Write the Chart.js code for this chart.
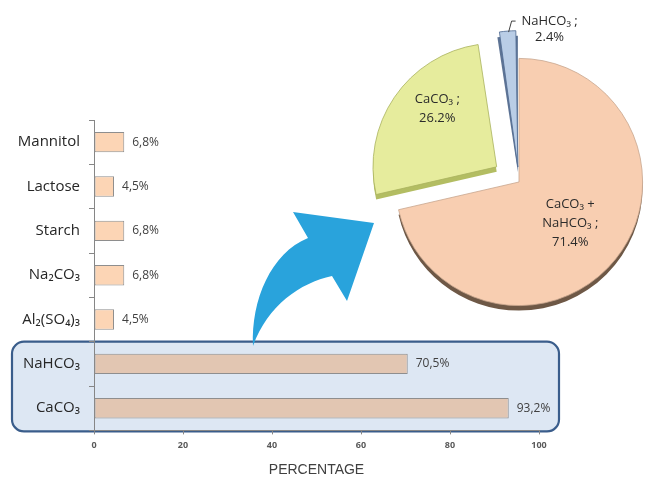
<!DOCTYPE html>
<html>
<head>
<meta charset="utf-8">
<script src="https://cdn.jsdelivr.net/npm/chart.js@4.4.1/dist/chart.umd.min.js"></script>
<style>
  html, body { margin: 0; padding: 0; background: #fff; overflow: hidden; }
  #wrap { position: relative; width: 650px; height: 479px; overflow: hidden; }
  #barChart { position: absolute; left: 0; top: 0; }
  #pieChart { position: absolute; left: 341px; top: 4px; }
</style>
</head>
<body>
<div id="wrap">
  <canvas id="barChart" width="650" height="479"></canvas>
  <canvas id="pieChart" width="356" height="356"></canvas>
</div>
<script>
// bar chart data
const barLabels = ['Mannitol', 'Lactose', 'Starch', 'Na₂CO₃', 'Al₂(SO₄)₃', 'NaHCO₃', 'CaCO₃'];
const barValues = [6.8, 4.5, 6.8, 6.8, 4.5, 70.5, 93.2];
const xTicks = [0, 20, 40, 60, 80, 100];
const highlighted = ['NaHCO₃', 'CaCO₃'];

// pie chart data
const pieLabels = [['CaCO₃ +', 'NaHCO₃ ;'], ['CaCO₃ ;'], ['NaHCO₃ ;']];
const pieValues = [71.4, 26.2, 2.4];
const pieExploded = [0, 108, 60];

const FONT = "'Open Sans', 'DejaVu Sans', sans-serif";

// rounded box behind the two big bars
const highlightBox = {
  id: 'highlightBox',
  beforeDraw(chart) {
    const ctx = chart.ctx;
    const y = chart.scales.y;
    const half = (y.getPixelForValue(1) - y.getPixelForValue(0)) / 2;
    const top = y.getPixelForValue(barLabels.indexOf(highlighted[0])) - half;
    const bottom = y.getPixelForValue(barLabels.indexOf(highlighted[1])) + half + 1;
    ctx.save();
    ctx.beginPath();
    ctx.roundRect(12, top, 547, bottom - top, 12);
    ctx.fillStyle = '#dde7f3';
    ctx.fill();
    ctx.lineWidth = 2.2;
    ctx.strokeStyle = '#3a5d8b';
    ctx.stroke();
    ctx.restore();
  }
};

// "6,8%" style labels at the end of the bars
const barValueLabels = {
  id: 'barValueLabels',
  afterDatasetsDraw(chart) {
    const ctx = chart.ctx;
    const meta = chart.getDatasetMeta(0);
    ctx.save();
    ctx.font = '12px ' + FONT;
    ctx.fillStyle = '#404040';
    ctx.textBaseline = 'middle';
    meta.data.forEach((bar, i) => {
      const txt = barValues[i].toFixed(1).replace('.', ',') + '%';
      ctx.fillText(txt, bar.x + 8, bar.y);
    });
    ctx.restore();
  }
};

// blue curved arrow from the box to the pie
const arrowPlugin = {
  id: 'arrow',
  afterDraw(chart) {
    const ctx = chart.ctx;
    ctx.save();
    ctx.beginPath();
    ctx.moveTo(253, 346);
    ctx.bezierCurveTo(251, 300, 271, 253, 308, 238);
    ctx.lineTo(293, 212);
    ctx.lineTo(374, 223);
    ctx.lineTo(347, 301);
    ctx.lineTo(332, 276);
    ctx.bezierCurveTo(300, 283, 268, 305, 253, 346);
    ctx.closePath();
    ctx.fillStyle = '#29a3dc';
    ctx.fill();
    ctx.restore();
  }
};

new Chart(document.getElementById('barChart'), {
  type: 'bar',
  data: {
    labels: barLabels,
    datasets: [{
      data: barValues,
      backgroundColor: barLabels.map(l => highlighted.includes(l) ? '#e2c6b2' : '#fcd5b5'),
      borderColor: '#8e8e8e',
      borderWidth: 1,
      borderSkipped: false,
      categoryPercentage: 0.5,
      barPercentage: 0.92
    }]
  },
  options: {
    indexAxis: 'y',
    responsive: false,
    animation: false,
    layout: { padding: { left: 0, right: 111, top: 120, bottom: 0 } },
    plugins: { legend: { display: false }, tooltip: { enabled: false } },
    scales: {
      x: {
        min: 0, max: 100,
        afterBuildTicks: s => { s.ticks = xTicks.map(v => ({ value: v })); },
        grid: { drawOnChartArea: false, tickLength: 4, color: '#868686' },
        border: { color: '#868686' },
        ticks: { font: { family: FONT, size: 9, weight: 'bold' }, color: '#595959', padding: 6 },
        title: {
          display: true, text: 'PERCENTAGE', color: '#404040',
          font: { family: "'Liberation Sans', Arial, sans-serif", size: 14 },
          padding: { top: 5, bottom: 0 }
        }
      },
      y: {
        grid: { drawOnChartArea: false, tickLength: 5, offset: true, color: '#868686' },
        border: { color: '#868686' },
        ticks: { font: { family: FONT, size: 15 }, color: '#262626', padding: 9 },
        afterFit: s => { s.width = 94; }
      }
    }
  },
  plugins: [highlightBox, barValueLabels, arrowPlugin]
});

// Chart.js draws an exploded arc shifted by offset/4 and, for thin slices, a bit longer
function arcShift(a) {
  const off = (a.options.offset || 0) / 4;
  const circ = a.endAngle - a.startAngle;
  const extra = off * (1 - Math.sin(Math.min(Math.PI, circ)));
  return { off, r: a.outerRadius + extra };
}

// 3D-ish thickness under the pie slices
const depthColors = ['#6e5846', '#b3bd62', '#5d7394'];
const pieDepth = {
  id: 'pieDepth',
  beforeDatasetsDraw(chart) {
    const ctx = chart.ctx;
    const meta = chart.getDatasetMeta(0);
    ctx.save();
    meta.data.forEach((a, i) => {
      const { off, r } = arcShift(a);
      const mid = (a.startAngle + a.endAngle) / 2;
      const cx = a.x + Math.cos(mid) * off;
      const cy = a.y + Math.sin(mid) * off + 5;
      ctx.beginPath();
      ctx.moveTo(cx, cy);
      ctx.arc(cx, cy, r, a.startAngle, a.endAngle);
      ctx.closePath();
      ctx.fillStyle = depthColors[i];
      ctx.fill();
    });
    ctx.restore();
  }
};

// slice labels
const pieText = {
  id: 'pieText',
  afterDatasetsDraw(chart) {
    const ctx = chart.ctx;
    const meta = chart.getDatasetMeta(0);
    ctx.save();
    ctx.font = '13px ' + FONT;
    ctx.fillStyle = '#2b2b2b';
    ctx.textAlign = 'center';
    ctx.textBaseline = 'middle';
    meta.data.forEach((a, i) => {
      const { off, r } = arcShift(a);
      const mid = (a.startAngle + a.endAngle) / 2;
      const lines = pieLabels[i].concat(pieValues[i].toFixed(1) + '%');
      if (i === 2) {
        // small slice: label outside with a leader line
        const px = a.x + Math.cos(mid) * (r + off);
        const py = a.y + Math.sin(mid) * (r + off);
        ctx.strokeStyle = '#404040';
        ctx.lineWidth = 1;
        ctx.beginPath();
        ctx.moveTo(px + 1, py + 1);
        ctx.lineTo(px + 4, py - 10);
        ctx.lineTo(px + 8, py - 10);
        ctx.stroke();
        lines.forEach((t, k) => ctx.fillText(t, px + 42, py - 10 + k * 16));
        return;
      }
      const f = i === 0 ? 0.53 : 0.67;
      const ang = i === 0 ? mid : mid + 0.135;
      const cx = a.x + Math.cos(ang) * (off + a.outerRadius * f);
      const cy = a.y + Math.sin(ang) * (off + a.outerRadius * f);
      const h = 19;
      lines.forEach((t, k) => ctx.fillText(t, cx, cy + (k - (lines.length - 1) / 2) * h));
    });
    ctx.restore();
  }
};

new Chart(document.getElementById('pieChart'), {
  type: 'pie',
  data: {
    labels: pieLabels,
    datasets: [{
      data: pieValues,
      backgroundColor: ['#f8ceb1', '#e6ec9d', '#b9cde6'],
      borderColor: ['#c8a68e', '#aab25e', '#4f6a90'],
      borderWidth: 0.8,
      offset: pieExploded,
      hoverOffset: 0
    }]
  },
  options: {
    responsive: false,
    animation: false,
    plugins: { legend: { display: false }, tooltip: { enabled: false } }
  },
  plugins: [pieDepth, pieText]
});
</script>
</body>
</html>
